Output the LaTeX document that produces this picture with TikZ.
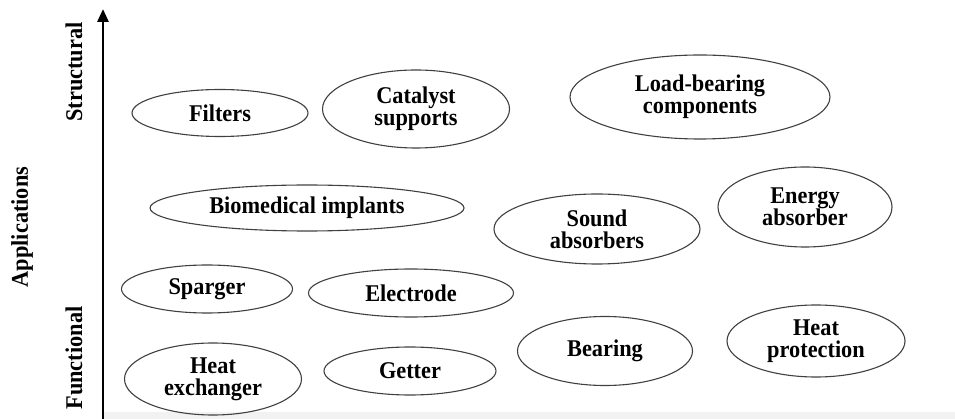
\documentclass[tikz,border=0pt]{standalone}
\usepackage{fontspec}
\setmainfont{Liberation Serif}[FakeStretch=0.93]
\usetikzlibrary{shapes.geometric,arrows.meta}
\begin{document}
\begin{tikzpicture}[x=1pt,y=-1pt,
  app/.style={ellipse,draw=black!75,line width=1.1pt,inner sep=0pt,
    font=\fontsize{24}{22}\selectfont\bfseries,align=center},
  axislabel/.style={rotate=90,font=\fontsize{24}{22}\selectfont\bfseries}]
\useasboundingbox (0,0) rectangle (955,419);
\fill[black!5] (104,412) rectangle (955,419);
% axis
\coordinate (ab) at (103,419);
\coordinate (at) at (103,9);
\draw[line width=2.8pt,-{Triangle[length=13pt,width=11pt]}] (ab) -- (at);
\node[axislabel] (structural) at (74,72) {Structural};
\node[axislabel] (applications) at (22,227) {Applications};
\node[axislabel] (functional) at (74,358) {Functional};
% ellipses
\node[app,minimum width=176pt,minimum height=47pt] (filters) at (220,113) {Filters};
\node[app,minimum width=187pt,minimum height=78pt] (catalyst) at (416,109) {Catalyst\\supports};
\node[app,minimum width=260pt,minimum height=84pt] (load) at (700,97) {Load-bearing\\components};
\node[app,minimum width=314pt,minimum height=46pt] (bio) at (307,208) {Biomedical implants};
\node[app,minimum width=206pt,minimum height=70pt] (sound) at (597,229) {Sound\\absorbers};
\node[app,minimum width=174pt,minimum height=80pt] (energy) at (805,207) {Energy\\absorber};
\node[app,minimum width=171pt,minimum height=48pt] (sparger) at (207,289) {Sparger};
\node[app,minimum width=205pt,minimum height=48pt] (electrode) at (411,293) {Electrode};
\node[app,minimum width=177pt,minimum height=72pt] (heatex) at (213,379) {Heat\\exchanger};
\node[app,minimum width=172pt,minimum height=48pt] (getter) at (410,371) {Getter};
\node[app,minimum width=175pt,minimum height=69pt] (bearing) at (605,351) {Bearing};
\node[app,minimum width=178pt,minimum height=72pt] (heatprot) at (816,341) {Heat\\protection};
\end{tikzpicture}
\end{document}
